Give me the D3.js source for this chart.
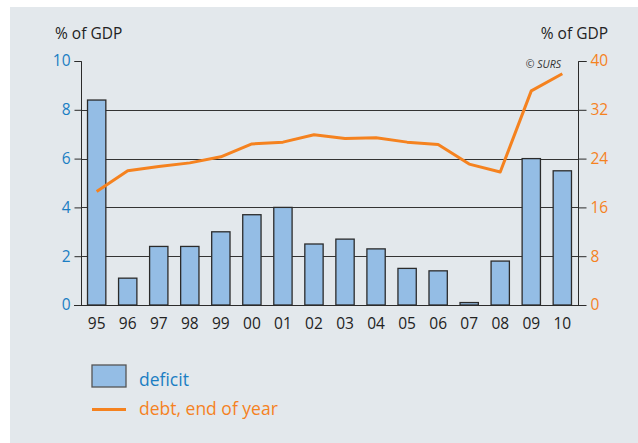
<!DOCTYPE html>
<html>
<head>
<meta charset="utf-8">
<script src="https://cdn.jsdelivr.net/npm/d3@7"></script>
<style>
  html, body { margin: 0; padding: 0; background: #ffffff; }
  svg { display: block; }
  text { font-family: "Open Sans", "Noto Sans", sans-serif; }
</style>
</head>
<body>
<svg id="chart" width="638" height="443"></svg>
<script>
const years = ["95","96","97","98","99","00","01","02","03","04","05","06","07","08","09","10"];
const deficit = [8.4, 1.1, 2.4, 2.4, 3.0, 3.7, 4.0, 2.5, 2.7, 2.3, 1.5, 1.4, 0.1, 1.8, 6.0, 5.5];
const debt = [18.6, 22.0, 22.7, 23.3, 24.3, 26.4, 26.7, 27.9, 27.3, 27.4, 26.7, 26.3, 23.1, 21.8, 35.1, 37.9];
const leftTicks = [0, 2, 4, 6, 8, 10];
const rightTicks = [0, 8, 16, 24, 32, 40];
const gridTicks = [2, 4, 6, 8];
const axisTitle = "% of GDP";
const legendLabels = ["deficit", "debt, end of year"];
const sourceNote = "© SURS";

const BLUE_TXT = "#1b7ec3", ORANGE = "#f5821f", BAR = "#94bde5", DARK = "#2b2b2b";

const svg = d3.select("#chart");
svg.append("rect").attr("x", 10).attr("y", 7).attr("width", 628).attr("height", 436).attr("fill", "#e3e8ec");

const x = d3.scaleBand().domain(years).range([81, 578]).paddingInner(0.41).paddingOuter(0.21);
const yL = d3.scaleLinear().domain([0, 10]).range([305, 61]);
const yR = d3.scaleLinear().domain([0, 40]).range([305, 61]);

// gridlines
svg.append("g").selectAll("line").data(gridTicks).join("line")
  .attr("x1", 81).attr("x2", 578)
  .attr("y1", d => Math.round(yL(d)) + 0.5).attr("y2", d => Math.round(yL(d)) + 0.5)
  .attr("stroke", "#333").attr("stroke-width", 1);

// bars
svg.append("g").selectAll("rect").data(years).join("rect")
  .attr("x", d => x(d))
  .attr("y", (d, i) => yL(deficit[i]))
  .attr("width", x.bandwidth())
  .attr("height", (d, i) => yL(0) - yL(deficit[i]))
  .attr("fill", BAR).attr("stroke", DARK).attr("stroke-width", 1.3);

// debt line
const line = d3.line().x((d, i) => x(years[i]) + x.bandwidth() / 2).y(d => yR(d));
svg.append("path").datum(debt).attr("d", line)
  .attr("fill", "none").attr("stroke", ORANGE).attr("stroke-width", 3).attr("stroke-linejoin", "round");

// left axis
const gL = svg.append("g").attr("transform", "translate(81.5,0)")
  .call(d3.axisLeft(yL).tickValues(leftTicks).tickSize(7).tickPadding(4).tickFormat(d3.format("d")));
gL.select(".domain").attr("stroke", DARK).attr("d", `M-7,${yL(10)+0.5}H0V${yL(0)+0.5}`);
gL.selectAll(".tick line").attr("stroke", DARK);
gL.selectAll(".tick text").attr("fill", BLUE_TXT).style("font-size", "15.5px").attr("font-family", null);

// right axis
const gR = svg.append("g").attr("transform", "translate(578.5,0)")
  .call(d3.axisRight(yR).tickValues(rightTicks).tickSize(8).tickPadding(4).tickFormat(d3.format("d")));
gR.select(".domain").attr("stroke", DARK).attr("d", `M8,${yR(40)+0.5}H0V${yR(0)+0.5}`);
gR.selectAll(".tick line").attr("stroke", DARK);
gR.selectAll(".tick text").attr("fill", ORANGE).style("font-size", "15.5px").attr("font-family", null);

// bottom axis
const gB = svg.append("g").attr("transform", "translate(0,305)")
  .call(d3.axisBottom(x).tickSize(0).tickPadding(13));
gB.select(".domain").remove();
gB.selectAll(".tick text").attr("fill", "#222").style("font-size", "15.5px").attr("font-family", null);
svg.append("line").attr("x1", 74).attr("x2", 586).attr("y1", 305.5).attr("y2", 305.5).attr("stroke", DARK);

// titles
svg.append("text").attr("x", 55).attr("y", 39).attr("fill", "#222").style("font-size", "15.5px").text(axisTitle);
svg.append("text").attr("x", 608).attr("y", 39).attr("text-anchor", "end").attr("fill", "#222").style("font-size", "15.5px").text(axisTitle);
svg.append("text").attr("x", 561).attr("y", 68).attr("text-anchor", "end").attr("fill", "#333")
  .style("font-size", "10.5px").style("font-style", "italic").text(sourceNote);

// legend
svg.append("rect").attr("x", 92).attr("y", 365).attr("width", 34).attr("height", 22)
  .attr("fill", BAR).attr("stroke", "#555").attr("stroke-width", 1.3);
svg.append("text").attr("x", 139).attr("y", 385.5).attr("fill", BLUE_TXT).style("font-size", "17.5px").text(legendLabels[0]);
svg.append("line").attr("x1", 92).attr("x2", 126).attr("y1", 409.5).attr("y2", 409.5).attr("stroke", ORANGE).attr("stroke-width", 3);
svg.append("text").attr("x", 139).attr("y", 414.5).attr("fill", ORANGE).style("font-size", "17.5px").text(legendLabels[1]);
</script>
</body>
</html>
